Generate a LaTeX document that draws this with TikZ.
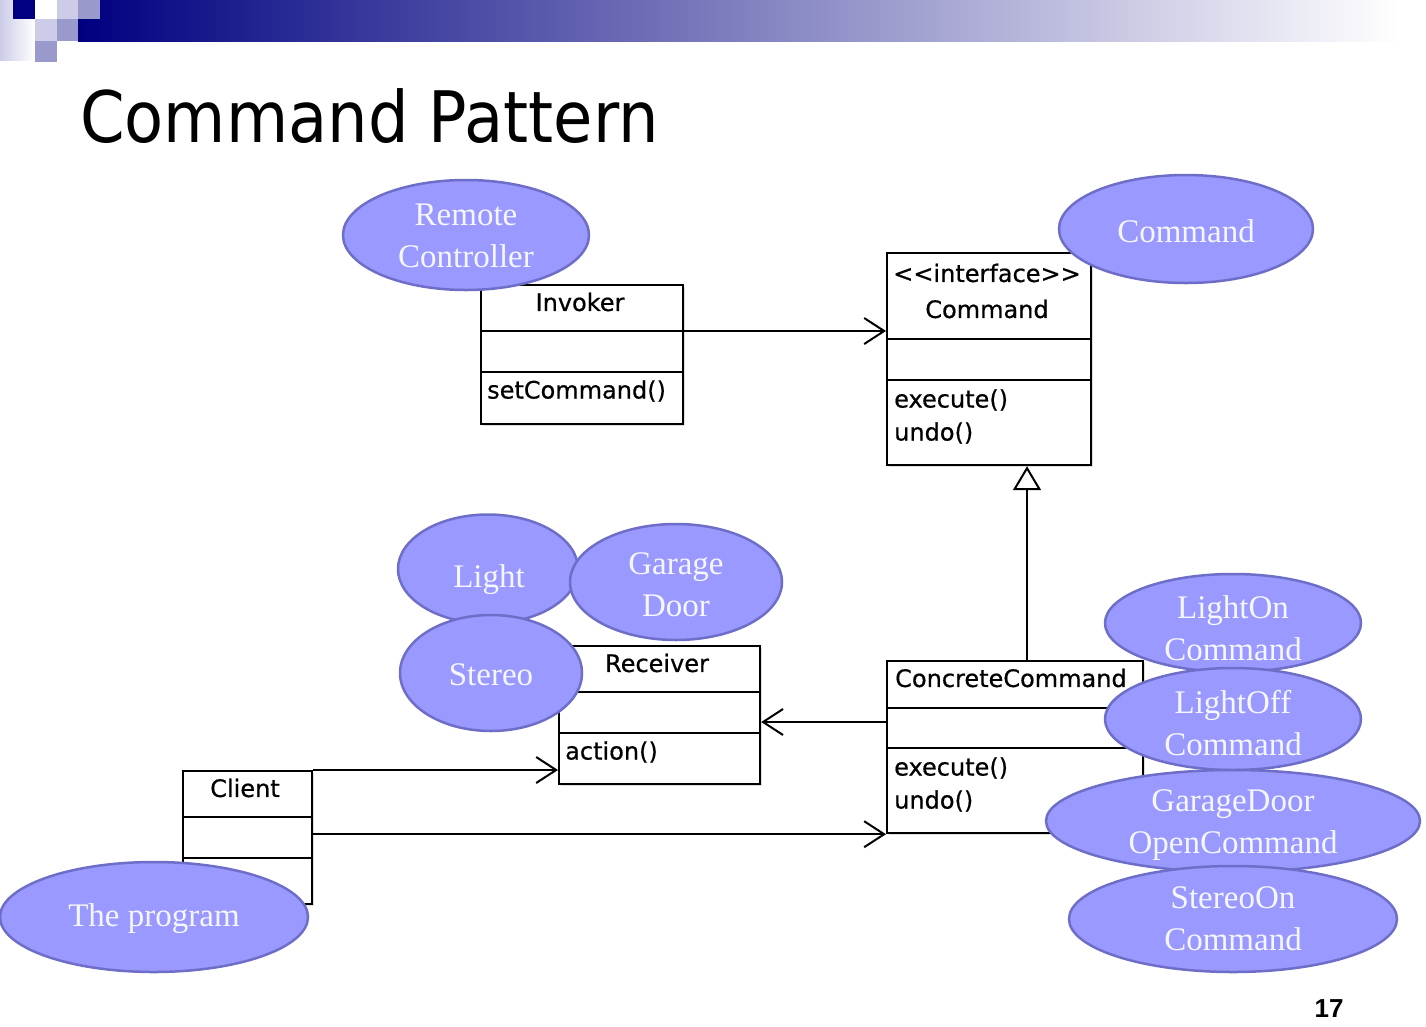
\documentclass[tikz,border=0pt]{standalone}
\usepackage{graphicx}
\usepackage{fontspec}
\newfontfamily\umlfont[FakeBold=0.6]{DejaVu Sans}
\newfontfamily\titlefont{DejaVu Sans}
\newfontfamily\numfont{Liberation Sans}
\newfontfamily\notefont{Liberation Serif}
\usetikzlibrary{arrows.meta,shadows,shapes.geometric}

\definecolor{navy}{RGB}{0,0,128}
\definecolor{barmid}{RGB}{150,150,200}
\definecolor{lav}{RGB}{204,204,232}
\definecolor{medlav}{RGB}{153,153,204}
\definecolor{ellfill}{RGB}{153,153,255}
\definecolor{elldraw}{RGB}{110,110,200}
\definecolor{elltext}{RGB}{246,246,255}

\tikzset{
  umlbox/.style={draw=black, line width=2.2pt, fill=white, inner sep=0pt,
    anchor=north west,
    drop shadow={shadow xshift=2pt, shadow yshift=-2pt, opacity=0.25}},
  divider/.style={draw=black, line width=2.2pt},
  umltext/.style={font=\umlfont\fontsize{24}{29}\selectfont, inner sep=0pt, text=black},
  note/.style={ellipse, draw=elldraw, fill=ellfill, line width=2.5pt, inner sep=0pt},
  notetext/.style={inner sep=0pt, align=center, text=elltext,
    font=\notefont\fontsize{33}{42}\selectfont},
  assoc/.style={line width=2pt, -{Straight Barb[length=20pt,width=26pt]}},
  realize/.style={line width=2pt, -{Triangle[open, length=24pt, width=28pt, fill=white]}}
}

\begin{document}
\begin{tikzpicture}[x=1pt,y=-1pt]
\useasboundingbox (0,0) rectangle (1426,1026);

% header band and corner squares
\shade[left color=navy, middle color=barmid, right color=white] (78,0) rectangle (1400,41);
\shade[left color=lav, right color=white] (0,0) rectangle (35,60);
\fill[navy] (13,0) rectangle (35,19);
\fill[white] (35,0) rectangle (57,19);
\fill[lav] (57,0) rectangle (78,19);
\fill[medlav] (78,0) rectangle (100,19);
\fill[lav] (35,19) rectangle (57,41);
\fill[medlav] (57,19) rectangle (78,41);
\fill[medlav] (35,41) rectangle (57,62);

% title
\node[anchor=base west, inner sep=0pt, font=\titlefont\fontsize{71}{80}\selectfont]
  (title) at (80,142) {\scalebox{0.9}[1]{Command Pattern}};

% class boxes
\node[umlbox, minimum width=202pt, minimum height=139pt] (inv) at (480,284) {};
\node[umlbox, minimum width=204pt, minimum height=212pt] (cmd) at (886,252) {};
\node[umlbox, minimum width=201pt, minimum height=138pt] (recv) at (558,645) {};
\node[umlbox, minimum width=256pt, minimum height=172pt] (conc) at (886,660) {};
\node[umlbox, minimum width=129pt, minimum height=133pt] (cli) at (182,770) {};

% compartment lines
\draw[divider] (inv.west |- 0,331) -- (inv.east |- 0,331);
\draw[divider] (inv.west |- 0,372) -- (inv.east |- 0,372);
\draw[divider] (cmd.west |- 0,339) -- (cmd.east |- 0,339);
\draw[divider] (cmd.west |- 0,380) -- (cmd.east |- 0,380);
\draw[divider] (recv.west |- 0,692) -- (recv.east |- 0,692);
\draw[divider] (recv.west |- 0,733) -- (recv.east |- 0,733);
\draw[divider] (conc.west |- 0,708) -- (conc.east |- 0,708);
\draw[divider] (conc.west |- 0,748) -- (conc.east |- 0,748);
\draw[divider] (cli.west |- 0,817) -- (cli.east |- 0,817);
\draw[divider] (cli.west |- 0,858) -- (cli.east |- 0,858);

% class texts
\node[umltext] (invname) at (580,302) {Invoker};
\node[umltext, anchor=west] (invop) at (487,391) {setCommand()};
\node[umltext] (cmdst) at (987,273) {<{}<interface>{}>};
\node[umltext] (cmdname) at (987,309) {Command};
\node[umltext, anchor=west] (cmdop1) at (894,400) {execute()};
\node[umltext, anchor=west] (cmdop2) at (894,433) {undo()};
\node[umltext] (recvname) at (657,663) {Receiver};
\node[umltext, anchor=west] (recvop) at (565,752) {action()};
\node[umltext, anchor=west] (concname) at (895,678) {ConcreteCommand};
\node[umltext, anchor=west] (concop1) at (894,768) {execute()};
\node[umltext, anchor=west] (concop2) at (894,801) {undo()};
\node[umltext] (cliname) at (245,788) {Client};

% relations
\draw[assoc] (inv.east |- 0,331) -- (cmd.west |- 0,331);
\draw[realize] (conc.north -| 1027,0) -- (cmd.south -| 1027,0);
\draw[assoc] (conc.west |- 0,722) -- (recv.east |- 0,722);
\draw[assoc] (cli.north east) -- (recv.west |- cli.north east);
\draw[assoc] (cli.east |- conc.south west) -- (conc.south west);

% role ellipses
\node[note, minimum width=246pt, minimum height=110pt] (eremote) at (466,235) {};
\node[notetext] (tremote) at (466,236) {Remote\\Controller};
\node[note, minimum width=254pt, minimum height=108pt] (ecmd) at (1186,229) {};
\node[notetext] (tcmd) at (1186,231) {Command};
\node[note, minimum width=180pt, minimum height=109pt] (elight) at (488,569) {};
\node[notetext] (tlight) at (489,580) {Light};
\node[note, minimum width=212pt, minimum height=116pt] (egarage) at (676,582) {};
\node[notetext] (tgarage) at (676,585) {Garage\\Door};
\node[note, minimum width=182pt, minimum height=116pt] (estereo) at (491,673) {};
\node[notetext] (tstereo) at (491,675) {Stereo};
\node[note, minimum width=256pt, minimum height=98pt] (elon) at (1233,623) {};
\node[notetext] (tlon) at (1233,628) {LightOn\\Command};
\node[note, minimum width=256pt, minimum height=102pt] (eloff) at (1233,719) {};
\node[notetext] (tloff) at (1233,723) {LightOff\\Command};
\node[note, minimum width=374pt, minimum height=102pt] (egopen) at (1233,821) {};
\node[notetext] (tgopen) at (1233,825) {GarageDoor\\OpenCommand};
\node[note, minimum width=328pt, minimum height=106pt] (eson) at (1233,919) {};
\node[notetext] (tson) at (1233,919) {StereoOn\\Command};
\node[note, minimum width=308pt, minimum height=110pt] (eprog) at (154,917) {};
\node[notetext] (tprog) at (154,919) {The program};

% page number
\node[inner sep=0pt, font=\numfont\bfseries\fontsize{26}{30}\selectfont] (pageno) at (1329,1009) {17};
\end{tikzpicture}
\end{document}
